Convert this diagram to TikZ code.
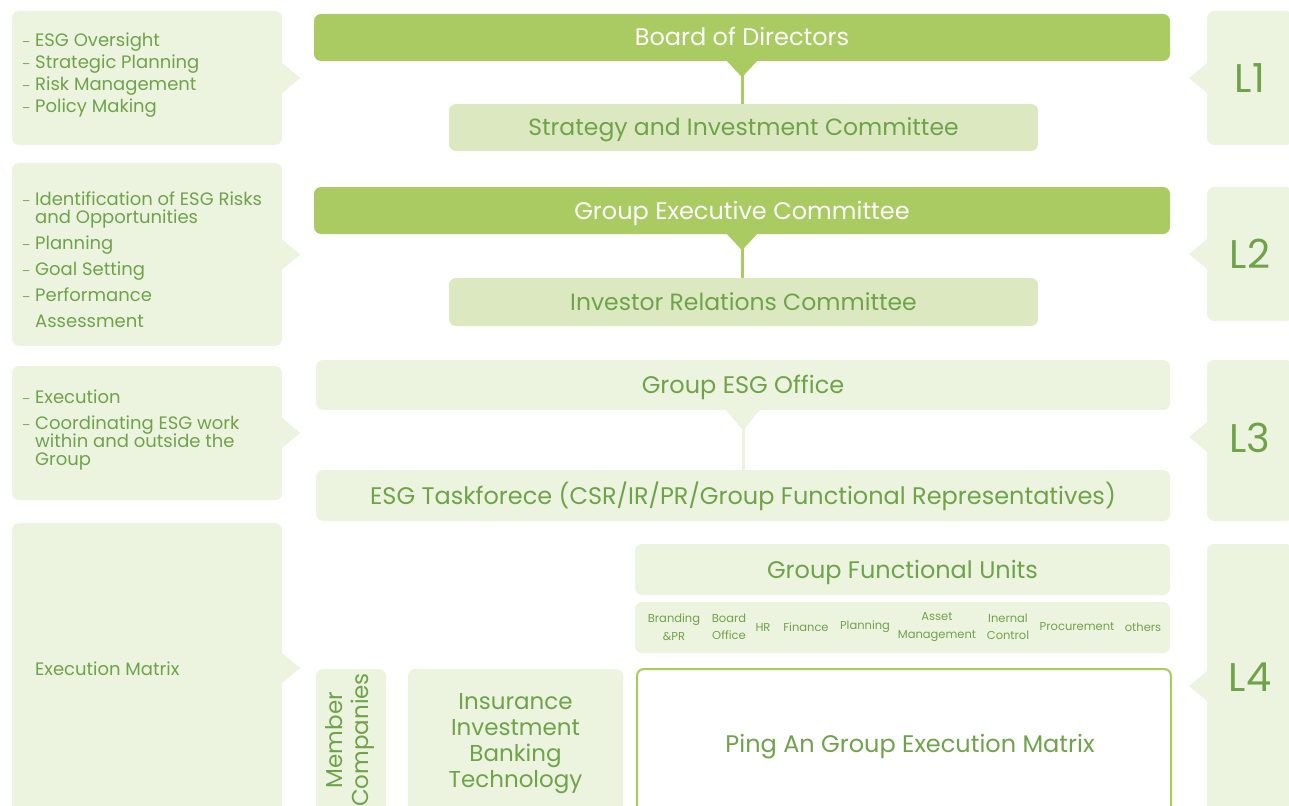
\documentclass[tikz,border=0pt]{standalone}
\usepackage{fontspec}
\setmainfont{Poppins}
\usetikzlibrary{positioning}
\definecolor{esgdark}{HTML}{A9CB62}
\definecolor{esgmid}{HTML}{DCE9C0}
\definecolor{esgpale}{HTML}{ECF4DF}
\definecolor{esgline}{HTML}{A5CF5A}
\definecolor{esgtext}{HTML}{6FA34A}
\newcommand{\dashitem}{\makebox[13pt][l]{\fontsize{12}{12}\selectfont\textendash}}
\newcommand{\esgindent}{\hspace*{13pt}}
\newcommand{\sidefont}{\fontsize{18}{18}\selectfont\setlength{\lineskiplimit}{-20pt}}

\begin{document}
\begin{tikzpicture}[x=1pt,y=-1pt]
\tikzset{
  panel/.style={rectangle,rounded corners=7pt,fill=esgpale,inner sep=0pt,text=esgtext},
  bartext/.style={text height=19pt,text depth=2pt},
  darkbar/.style={panel,bartext,fill=esgdark,text=white,font=\fontsize{24}{28}\selectfont},
  midbar/.style={panel,bartext,fill=esgmid,font=\fontsize{23.5}{28}\selectfont},
  palebar/.style={panel,bartext,font=\fontsize{24}{28}\selectfont},
  sidetext/.style={anchor=north west,align=left,inner sep=0pt,text=esgtext,font=\sidefont},
  levelbox/.style={panel,font=\fontsize{40}{40}\selectfont},
  unitlabel/.style={inner sep=0pt,align=center,text=esgtext,font=\fontsize{11.5}{17.5}\selectfont},
  stem/.style={draw=esgdark,line width=3pt},
  palestem/.style={draw=esgpale,line width=3pt}
}
\useasboundingbox (0,0) rectangle (1289,805);
\clip (0,0) rectangle (1289,805);

% left descriptions
\node[panel,minimum width=270pt,minimum height=134pt] (n_lb1) at (147,78) {};
\node[panel,minimum width=270pt,minimum height=183pt] (n_lb2) at (147,254.5) {};
\node[panel,minimum width=270pt,minimum height=134pt] (n_lb3) at (147,433) {};
\node[panel,minimum width=270pt,minimum height=290pt] (n_lb4) at (147,668) {};
\foreach \b in {n_lb1,n_lb2,n_lb3,n_lb4}
  \fill[esgpale] ([yshift=15pt]\b.east) -- ([xshift=18pt]\b.east) -- ([yshift=-15pt]\b.east) -- cycle;

\node[sidetext] (n_lt1) at (22,33) {\dashitem ESG Oversight\\[4pt]\dashitem Strategic Planning\\[4pt]\dashitem Risk Management\\[4pt]\dashitem Policy Making};
\node[sidetext] (n_lt2) at (22,192) {\dashitem Identification of ESG Risks\\\esgindent and Opportunities\\[8pt]\dashitem Planning\\[8pt]\dashitem Goal Setting\\[8pt]\dashitem Performance\\[8pt]\esgindent Assessment};
\node[sidetext] (n_lt3) at (22,390) {\dashitem Execution\\[8pt]\dashitem Coordinating ESG work\\\esgindent within and outside the\\\esgindent Group};
\node[sidetext,anchor=west] (n_lt4) at (35,669) {Execution Matrix};

% right levels
\node[levelbox,minimum width=86pt,minimum height=134pt] (n_l1) at (1250,78) {L1};
\node[levelbox,minimum width=86pt,minimum height=134pt] (n_l2) at (1250,254) {L2};
\node[levelbox,minimum width=86pt,minimum height=161pt] (n_l3) at (1250,440.5) {};
\node[text=esgtext,font=\fontsize{40}{40}\selectfont] (n_l3t) at (1250,438) {L3};
\node[levelbox,minimum width=86pt,minimum height=272pt] (n_l4) at (1250,680) {};
\node[text=esgtext,font=\fontsize{40}{40}\selectfont] (n_l4t) at (1250,677) {L4};
\foreach \b/\t in {n_l1/78,n_l2/254,n_l3/437,n_l4/686}
  \fill[esgpale] (1207,\t-15) -- (1189,\t) -- (1207,\t+15) -- cycle;

% governance chain
\node[darkbar,minimum width=856pt,minimum height=47pt] (n_board) at (742,37.5) {Board of Directors};
\node[midbar,minimum width=589pt,minimum height=47pt] (n_sic) at (743.5,127.5) {Strategy and Investment Committee};
\node[darkbar,minimum width=856pt,minimum height=47pt] (n_gec) at (742,210.5) {Group Executive Committee};
\node[midbar,minimum width=589pt,minimum height=48pt] (n_irc) at (743.5,302) {Investor Relations Committee};
\node[palebar,minimum width=854pt,minimum height=50pt] (n_office) at (743,385) {Group ESG Office};
\node[palebar,minimum width=854pt,minimum height=51pt] (n_task) at (743,495.5) {ESG Taskforece (CSR/IR/PR/Group Functional Representatives)};

\fill[esgdark] ([xshift=-15pt]n_board.south) -- ([yshift=-16pt]n_board.south) -- ([xshift=15pt]n_board.south) -- cycle;
\draw[stem] (n_board.south) -- (n_board.south |- n_sic.north);
\fill[esgdark] ([xshift=-15pt]n_gec.south) -- ([yshift=-16pt]n_gec.south) -- ([xshift=15pt]n_gec.south) -- cycle;
\draw[stem] (n_gec.south) -- (n_gec.south |- n_irc.north);
\fill[esgpale] ([xshift=-17pt]n_office.south) -- ([yshift=-20pt]n_office.south) -- ([xshift=17pt]n_office.south) -- cycle;
\draw[palestem] (n_office.south) -- (n_office.south |- n_task.north);

% execution matrix
\node[palebar,minimum width=535pt,minimum height=51pt] (n_gfu) at (902.5,569.5) {Group Functional Units};
\node[panel,minimum width=535pt,minimum height=51pt] (n_units) at (902.5,627.5) {};
\node[unitlabel] (n_u1) at (674,627) {Branding\\\&PR};
\node[unitlabel] (n_u2) at (729,627) {Board\\Office};
\node[unitlabel] (n_u3) at (763,627) {HR};
\node[unitlabel] (n_u4) at (806,627) {Finance};
\node[unitlabel] (n_u5) at (865,627) {Planning};
\node[unitlabel] (n_u6) at (937,627) {Asset\\Management};
\node[unitlabel] (n_u7) at (1008,627) {Inernal\\Control};
\node[unitlabel] (n_u8) at (1077,627) {Procurement};
\node[unitlabel] (n_u9) at (1143,627) {others};

\node[panel,minimum width=70pt,minimum height=150pt] (n_member) at (351,744) {};
\node[rotate=90,align=center,text=esgtext,font=\fontsize{23}{26}\selectfont] (n_membert) at (350,740) {Member\\Companies};
\node[panel,minimum width=215pt,minimum height=150pt] (n_biz) at (515.5,744) {};
\node[align=center,text=esgtext,font=\fontsize{23}{26}\selectfont] (n_bizt) at (515.5,744) {Insurance\\Investment\\Banking\\Technology};
\node[panel,fill=white,draw=esgline,line width=2pt,minimum width=534pt,minimum height=150pt] (n_matrix) at (904,744) {};
\node[bartext,text=esgtext,font=\fontsize{24}{28}\selectfont] (n_matrixt) at (910,744) {Ping An Group Execution Matrix};
\end{tikzpicture}
\end{document}
